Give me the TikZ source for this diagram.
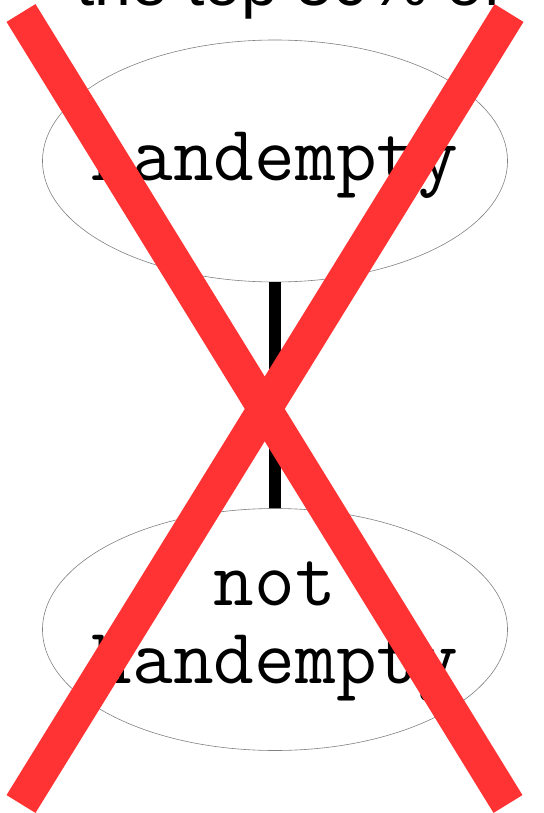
\documentclass[tikz,border=0pt]{standalone}
\usepackage{fontspec}
\setmainfont{Liberation Sans}
\usetikzlibrary{shapes.geometric}
\definecolor{rojo}{RGB}{255,51,51}

\begin{document}
\begin{tikzpicture}[x=1pt,y=-1pt,
	estado/.style={ellipse, draw=gray, line width=0.6pt, minimum width=465pt, minimum height=242pt, inner sep=0pt},
	texto/.style={font=\ttfamily\fontsize{79}{78}\selectfont, align=center, inner sep=0pt},
	cruz/.style={rojo, line width=34pt}
	]
	\useasboundingbox (0,0) rectangle (543,813);
	\clip (0,0) rectangle (543,813);

	%Titulo cortado arriba
	\node[anchor=base, font=\fontsize{66}{70}\selectfont, inner sep=0pt] (titulo) at (289,6) {the top 50\% of};

	%Creamos los estados
	\node[estado] (e1) at (275,161) {};
	\node[estado] (e2) at (275,629.5) {};
	\node[texto, anchor=base] (t1) at (275,181) {handempty};
	\node[texto, anchor=base] (t2) at (275,683) {not\\handempty};
	%Arista e1 con e2
	\draw[line width=11.5pt] (e1) -- (e2);
	%La cruz encima
	\coordinate (c1) at (21,13);
	\coordinate (c2) at (509,13);
	\coordinate (c3) at (21,804);
	\coordinate (c4) at (508,804);
	\draw[cruz] (c1) -- (c4);
	\draw[cruz] (c2) -- (c3);
\end{tikzpicture}
\end{document}
